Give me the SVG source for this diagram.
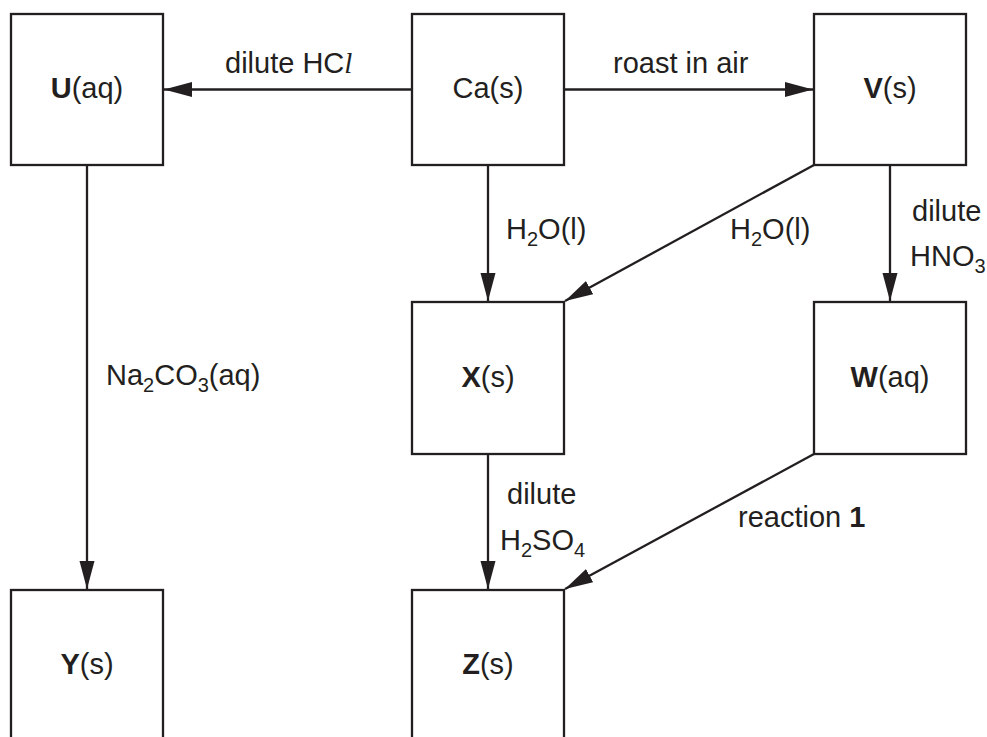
<svg xmlns="http://www.w3.org/2000/svg" width="987" height="737" viewBox="0 0 987 737">
<defs>
<style>
.box{fill:#fff;stroke:#231f20;stroke-width:2.3}
.ln{fill:none;stroke:#231f20;stroke-width:2.3}
text{font-family:"Liberation Sans",Arial,sans-serif;font-size:29px;fill:#231f20}
.c{text-anchor:middle}
.b{font-weight:bold}
.sub{font-size:20px}
</style>
<marker id="ah" markerUnits="userSpaceOnUse" markerWidth="30" markerHeight="16" refX="28" refY="7.5" orient="auto">
<path d="M0,0 L28,7.5 L0,15 z" fill="#231f20"/>
</marker>
</defs>
<rect width="987" height="737" fill="#fff"/>
<g id="connectors">
<line class="ln" x1="412" y1="89.5" x2="164" y2="89.5" marker-end="url(#ah)"/>
<line class="ln" x1="564" y1="89.5" x2="813" y2="89.5" marker-end="url(#ah)"/>
<line class="ln" x1="87" y1="165" x2="87" y2="589" marker-end="url(#ah)"/>
<line class="ln" x1="488" y1="165" x2="488" y2="301" marker-end="url(#ah)"/>
<line class="ln" x1="814" y1="165" x2="565" y2="301" marker-end="url(#ah)"/>
<line class="ln" x1="890" y1="165" x2="890" y2="301" marker-end="url(#ah)"/>
<line class="ln" x1="488" y1="454" x2="488" y2="589" marker-end="url(#ah)"/>
<line class="ln" x1="814" y1="454" x2="565" y2="589" marker-end="url(#ah)"/>
<text x="225" y="73">dilute HC<tspan font-family="'Liberation Serif',serif" font-style="italic">l</tspan></text>
<text x="613" y="73">roast in air</text>
<text x="506" y="239">H<tspan class="sub" dy="7">2</tspan><tspan dy="-7">O(l)</tspan></text>
<text x="730" y="239">H<tspan class="sub" dy="7">2</tspan><tspan dy="-7">O(l)</tspan></text>
<text x="912" y="221">dilute</text>
<text x="910" y="266">HNO<tspan class="sub" dy="7">3</tspan></text>
<text x="106" y="385">Na<tspan class="sub" dy="7">2</tspan><tspan dy="-7">CO</tspan><tspan class="sub" dy="7">3</tspan><tspan dy="-7">(aq)</tspan></text>
<text x="507" y="504">dilute</text>
<text x="500" y="550">H<tspan class="sub" dy="7">2</tspan><tspan dy="-7">SO</tspan><tspan class="sub" dy="7">4</tspan></text>
<text x="738" y="527">reaction <tspan class="b">1</tspan></text>
</g>
<g id="U"><rect class="box" x="11" y="14" width="152" height="151"/><text class="c" x="87" y="98"><tspan class="b">U</tspan>(aq)</text></g>
<g id="Ca"><rect class="box" x="412" y="14" width="152" height="151"/><text class="c" x="488" y="98">Ca(s)</text></g>
<g id="V"><rect class="box" x="814" y="14" width="152" height="151"/><text class="c" x="890" y="98"><tspan class="b">V</tspan>(s)</text></g>
<g id="X"><rect class="box" x="412" y="302" width="152" height="152"/><text class="c" x="488" y="387"><tspan class="b">X</tspan>(s)</text></g>
<g id="W"><rect class="box" x="814" y="302" width="152" height="152"/><text class="c" x="890" y="387"><tspan class="b">W</tspan>(aq)</text></g>
<g id="Y"><rect class="box" x="11" y="590" width="152" height="160"/><text class="c" x="87" y="674"><tspan class="b">Y</tspan>(s)</text></g>
<g id="Z"><rect class="box" x="412" y="590" width="152" height="160"/><text class="c" x="488" y="674"><tspan class="b">Z</tspan>(s)</text></g>
</svg>
